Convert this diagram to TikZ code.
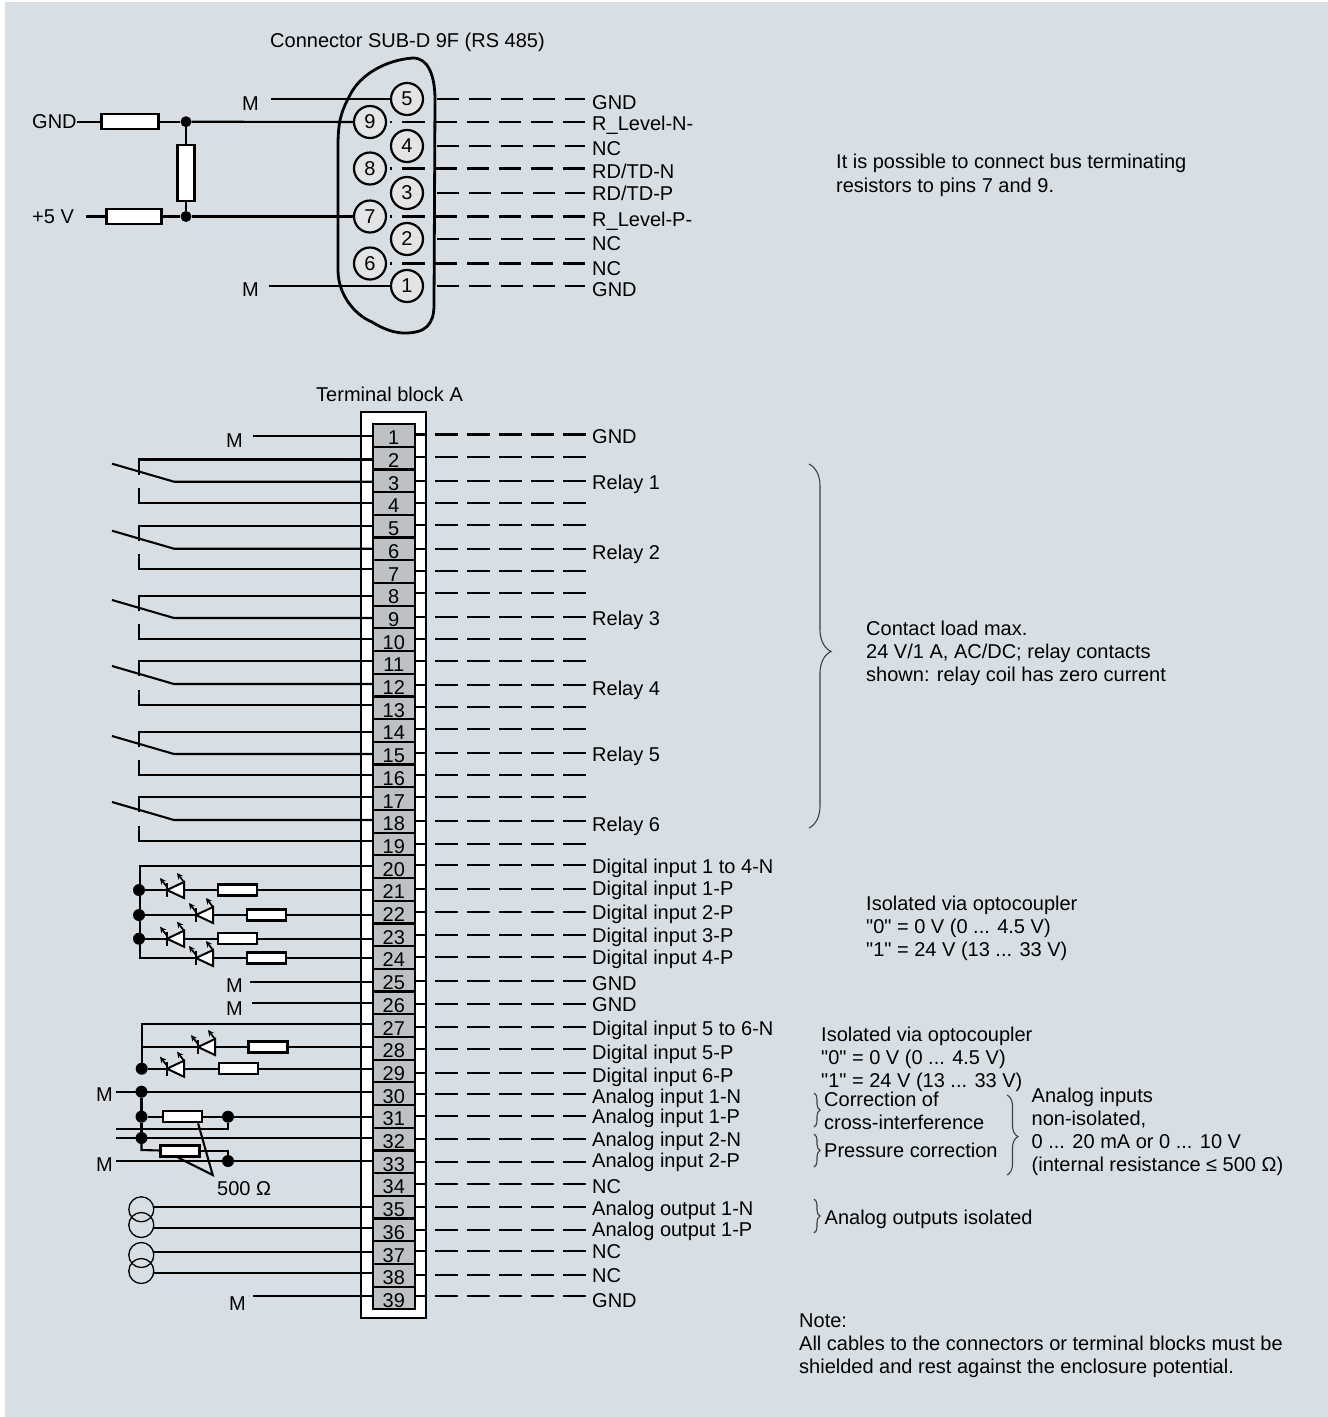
\documentclass[tikz,border=0pt]{standalone}
\usepackage{fontspec}
\usepackage{tikz}
\setmainfont[Ligatures=TeXOff]{Liberation Sans}
\usetikzlibrary{positioning, decorations.pathreplacing}
\definecolor{panelbg}{HTML}{D7DFE5}
\definecolor{cellgrey}{HTML}{BEC1C4}
\definecolor{pingrey}{HTML}{E3E4E5}
\newcommand{\lblfont}{\fontsize{20}{23}\selectfont}
\tikzset{
  wire/.style={line width=2.1pt},
  thinwire/.style={line width=1.6pt},
  oddrow/.style={line width=2.1pt, dash pattern=on 0pt off 13pt on 22pt off 10pt on 22pt off 10pt on 22pt off 10pt on 22pt off 10pt on 22pt off 50pt},
  evenrow/.style={line width=2.1pt, dash pattern=on 0pt off 3pt on 2pt off 10pt on 23pt off 10pt on 22pt off 10pt on 22pt off 10pt on 22pt off 10pt on 22pt off 10pt on 22pt off 50pt},
  termrow/.style={line width=2.1pt, dash pattern=on 11pt off 9pt on 23pt off 9pt on 23pt off 9pt on 23pt off 9pt on 23pt off 9pt on 23pt off 50pt},
  lbl/.style={font=\lblfont, inner sep=0pt, anchor=west, text height=14.3pt, text depth=0pt},
  txt/.style={font=\lblfont, inner sep=0pt, anchor=west, align=left},
  pin/.style={circle, draw, fill=pingrey, line width=2.2pt, minimum size=32pt, inner sep=0pt, font=\lblfont},
  termcell/.style={rectangle, draw, fill=cellgrey, line width=2.2pt, minimum width=42.3pt, minimum height=22.7pt, inner sep=0pt, font=\lblfont, text height=19pt, text depth=0pt},
  dot/.style={circle, fill=black, minimum size=12pt, inner sep=0pt},
  resistor/.style={rectangle, draw, fill=white, line width=2.2pt, minimum width=39pt, minimum height=11pt, inner sep=0pt},
  source/.style={circle, draw, line width=1.3pt, minimum size=25pt, inner sep=0pt},
  curly/.style={decorate, decoration={brace, amplitude=5pt}, line width=1.1pt, color=black!75},
  led/.pic={
    \draw[fill=white, line width=2pt, line join=miter] (0,0) -- (17,-8) -- (17,8) -- cycle;
    \draw[line width=2pt] (0,-7) -- (0,7);
    \draw[->, >=stealth, line width=1.7pt] (0,-3) -- (-7,-12);
    \draw[->, >=stealth, line width=1.7pt] (17,-8) -- (10,-17);
  }
}
\begin{document}
\begin{tikzpicture}[x=1pt,y=-1pt]
    \useasboundingbox (0,0) rectangle (1328,1417);
    \fill[panelbg] (5,2) rectangle (1328,1417);

    % connector
    \node[lbl] (conn_title) at (270,40) {Connector SUB-D 9F (RS 485)};
    \draw[line width=2.8pt] (413,58) .. controls (385,60) and (360,75) .. (350,95)
      .. controls (342,110) and (338,120) .. (338,145) -- (338,270)
      .. controls (338,295) and (355,315) .. (372,322)
      .. controls (385,330) and (395,333) .. (405,333)
      .. controls (425,333) and (434,325) .. (434,305) -- (435,100)
      .. controls (435,75) and (428,58) .. (413,58) -- cycle;
    \foreach \n/\xa/\ya in {5/407/99, 4/407/146, 3/407/193, 2/407/239, 1/407/286,
                            9/370/122, 8/370/168.5, 7/370/216.5, 6/370/263.5}{
      \node[pin] (pin_\n) at (\xa,\ya) {\n};
    }
    \foreach \n in {5,4,3,2,1} \path[oddrow] (pin_\n) edge (585,0 |- pin_\n);
    \foreach \n in {9,8,7,6} \path[evenrow] (pin_\n) edge (585,0 |- pin_\n);
    \foreach \y/\txtlbl in {102/GND, 123/R\_Level-N-, 148/NC, 171/{RD/TD-N}, 193/{RD/TD-P},
                            219/R\_Level-P-, 243/NC, 268/NC, 289/GND}{
      \node[lbl] at (592,\y) {\txtlbl};
    }
    \node[lbl] (conn_gnd) at (32,121.7) {GND};
    \node[lbl] (conn_5v) at (32,216.5) {+5 V};
    \node[lbl, anchor=east] (conn_m1) at (259,103) {M};
    \node[lbl, anchor=east] (conn_m2) at (259,289) {M};
    \node[resistor, minimum width=57pt, minimum height=15pt] (res_gnd) at (130,121.7) {};
    \node[resistor, minimum width=55pt, minimum height=15pt] (res_5v) at (134,216.5) {};
    \node[dot, minimum size=11pt] (dot_gnd) at (186,121.7) {};
    \node[dot, minimum size=11pt] (dot_5v) at (186,216.5) {};
    \node[resistor, minimum width=17pt, minimum height=56pt] (res_bus) at (186,173) {};
    \path[wire]
    (conn_gnd) edge (res_gnd)
    (res_gnd) edge (dot_gnd)
    (dot_gnd) edge (pin_9)
    (dot_gnd) edge (res_bus)
    (res_bus) edge (dot_5v)
    (86,216.5) edge (res_5v)
    (res_5v) edge (dot_5v)
    (dot_5v) edge (pin_7)
    (271,0 |- pin_5) edge (pin_5)
    (269,0 |- pin_1) edge (pin_1);

    \node[txt, font=\fontsize{20}{24}\selectfont] (bus_note) at (836,175) {It is possible to connect bus terminating\\resistors to pins 7 and 9.};

    % terminal block
    \node[lbl] (term_title) at (316,394) {Terminal block A};
    \node[rectangle, draw, fill=white, line width=2.5pt, minimum width=65pt, minimum height=906pt] (frame) at (393.5,865) {};
    \foreach \n/\yl/\yr in {1/436/434.5, 2/459.5/457, 3/481.7/481, 4/503/503, 5/526/525, 6/548.7/549,
                            7/569.3/571, 8/596/593, 9/618/617, 10/639/639, 11/661/661, 12/684/685,
                            13/705/707, 14/732/729, 15/754/753, 16/775/775, 17/797/797, 18/820/821,
                            19/841/844, 20/866/865, 21/890/889, 22/915/912, 23/938.7/935, 24/958/956.7,
                            25/981.7/981, 26/1003/1003.7, 27/1024/1027, 28/1047/1049, 29/1068.7/1073,
                            30/1091.7/1094, 31/1116.7/1115.7, 32/1138/1139, 33/1161/1161.7, 34/1184/1184,
                            35/1206.7/1207, 36/1228/1230, 37/1252/1251, 38/1273/1275, 39/1296/1296}{
      \node[termcell] (term_\n) at (393.8,{424+22.7*(\n-0.5)}) {\n};
      \coordinate (tl_\n) at (372,\yl);
      \coordinate (tr_\n) at (415,\yr);
      \path[termrow] (tr_\n) edge (586,0 |- tr_\n);
    }

    % relays
    \foreach \a/\b/\c in {2/3/4, 5/6/7, 8/9/10, 11/12/13, 14/15/16, 17/18/19}{
      \draw[wire] (tl_\a) -- (139,0 |- tl_\a) -- ++(0,15);
      \draw[wire] (tl_\b) -- (174,0 |- tl_\b) -- ++(-62,-18);
      \draw[wire] (tl_\c) -- (139,0 |- tl_\c) -- ++(0,-15);
    }

    % digital inputs
    \foreach \n/\xa/\xr in {21/167/237.5, 22/196/266.5, 23/167/237.5, 24/196/266.5, 28/198/268, 29/167/238.5}{
      \node[resistor] (res_\n) at (\xr,0 |- tl_\n) {};
      \path[wire] (res_\n) edge (tl_\n);
    }
    \node[dot] (dot_21) at (139,0 |- tl_21) {};
    \node[dot] (dot_22) at (139,0 |- tl_22) {};
    \node[dot] (dot_23) at (139,0 |- tl_23) {};
    \node[dot] (dot_29) at (141.7,0 |- tl_29) {};
    \coordinate (corner_20) at (140,0 |- tl_20);
    \coordinate (corner_24) at (140,0 |- tl_24);
    \coordinate (corner_27) at (141.7,0 |- tl_27);
    \coordinate (corner_28) at (141.7,0 |- tl_28);
    \draw[wire] (tl_20) -- (corner_20) -- (corner_24) -- (res_24);
    \path[wire]
    (dot_21) edge (res_21)
    (dot_22) edge (res_22)
    (dot_23) edge (res_23)
    (corner_28) edge (res_28)
    (dot_29) edge (res_29);
    \draw[wire] (tl_27) -- (corner_27) -- (dot_29);
    \foreach \n/\xa in {21/167, 22/196, 23/167, 24/196, 28/198, 29/167}{
      \pic (led_\n) at (\xa,0 |- tl_\n) {led};
    }

    % terminals with M
    \foreach \n/\xa/\xb/\yb in {1/253/243/440, 25/250/243/985, 26/252/243/1008, 39/253/246/1303}{
      \node[lbl, anchor=east] (m_\n) at (\xb,\yb) {M};
      \path[wire] (\xa,0 |- tl_\n) edge (tl_\n);
    }

    % analog inputs
    \node[lbl, anchor=east] (m_30) at (113,1094) {M};
    \node[lbl, anchor=east] (m_33) at (113,1164) {M};
    \node[dot] (dot_a) at (141.5,0 |- tl_30) {};
    \node[dot] (dot_b) at (141.5,0 |- tl_31) {};
    \node[dot] (dot_c) at (141.5,0 |- tl_32) {};
    \node[dot] (dot_d) at (228,0 |- tl_31) {};
    \node[resistor] (res_a) at (182.5,0 |- tl_31) {};
    \path[wire]
    (116,0 |- tl_30) edge (tl_30)
    (dot_a) edge (dot_b)
    (dot_b) edge (dot_c)
    (dot_b) edge (res_a)
    (res_a) edge (dot_d)
    (dot_d) edge (tl_31)
    (116,0 |- tl_32) edge (tl_32)
    (116,0 |- tl_33) edge (tl_33);
    \node[resistor] (res_b) at (180,1151) {};
    \node[dot] (dot_e) at (228,0 |- tl_33) {};
    \draw[wire] (dot_c) -- (141.5,1150) -- (res_b);
    \draw[thinwire] (res_b) -- (228,0 |- res_b) -- (dot_e);
    \draw[thinwire] (116,1129) -- (228,1129) -- (dot_d);
    \node[lbl] (ohm_lbl) at (217,1188) {500 Ω};
    \coordinate (ohm_tip) at (212.7,1175);
    \draw[wire] (res_a.south east) ++(-5,0) -- (ohm_tip) -- ([xshift=-2pt]res_b.south);

    % analog outputs
    \node[source] (src_a) at (141.3,1209.3) {};
    \node[source] (src_b) at (141.3,1225) {};
    \node[source] (src_c) at (141.3,1255) {};
    \node[source] (src_d) at (141.3,1271) {};
    \foreach \n/\x in {35/153.5, 36/153.5, 37/153.5, 38/153.5}
      \path[wire] (\x,0 |- tl_\n) edge (tl_\n);

    % terminal names
    \foreach \y/\txtlbl in {436/GND, 482/Relay 1, 552/Relay 2, 618/Relay 3, 688/Relay 4, 754/Relay 5, 824/Relay 6,
                            866/Digital input 1 to 4-N, 888/Digital input 1-P, 912/Digital input 2-P,
                            935/Digital input 3-P, 957/Digital input 4-P, 983/GND, 1004/GND,
                            1028/Digital input 5 to 6-N, 1052/Digital input 5-P, 1075/Digital input 6-P,
                            1096/Analog input 1-N, 1116/Analog input 1-P, 1139/Analog input 2-N,
                            1160/Analog input 2-P, 1186/NC, 1208/Analog output 1-N, 1229/Analog output 1-P,
                            1251/NC, 1275/NC, 1300/GND}{
      \node[lbl] at (592,\y) {\txtlbl};
    }

    % notes on the right
    \draw[curly, decoration={aspect=0.515, amplitude=22pt}] (809,464) -- (809,828);
    \node[txt] (relay_note) at (866,653) {Contact load max.\\24 V/1 A, AC/DC; relay contacts\\shown: relay coil has zero current};
    \node[txt] (opto_a) at (866,928) {Isolated via optocoupler\\"0" = 0 V (0 ... 4.5 V)\\"1" = 24 V (13 ... 33 V)};
    \node[txt] (opto_b) at (821,1059) {Isolated via optocoupler\\"0" = 0 V (0 ... 4.5 V)\\"1" = 24 V (13 ... 33 V)};
    \draw[curly, decoration={amplitude=6pt}] (814,1093) -- (814,1127);
    \draw[curly, decoration={amplitude=6pt}] (814,1134) -- (814,1167);
    \node[txt] (corr_a) at (824,1111) {Correction of\\cross-interference};
    \node[lbl] (corr_b) at (824,1150) {Pressure correction};
    \draw[curly, decoration={aspect=0.52, amplitude=11pt}] (1007,1095) -- (1007,1175);
    \node[txt] (analog_in) at (1031.5,1132) {Analog inputs\\non-isolated,\\0 ... 20 mA or 0 ... 10 V\\(internal resistance ≤ 500 Ω)};
    \draw[curly, decoration={amplitude=6pt}] (814,1199) -- (814,1233);
    \node[lbl] (analog_out) at (824.5,1217) {Analog outputs isolated};
    \node[txt] (cable_note) at (799,1346) {Note:\\All cables to the connectors or terminal blocks must be\\shielded and rest against the enclosure potential.};
\end{tikzpicture}
\end{document}
